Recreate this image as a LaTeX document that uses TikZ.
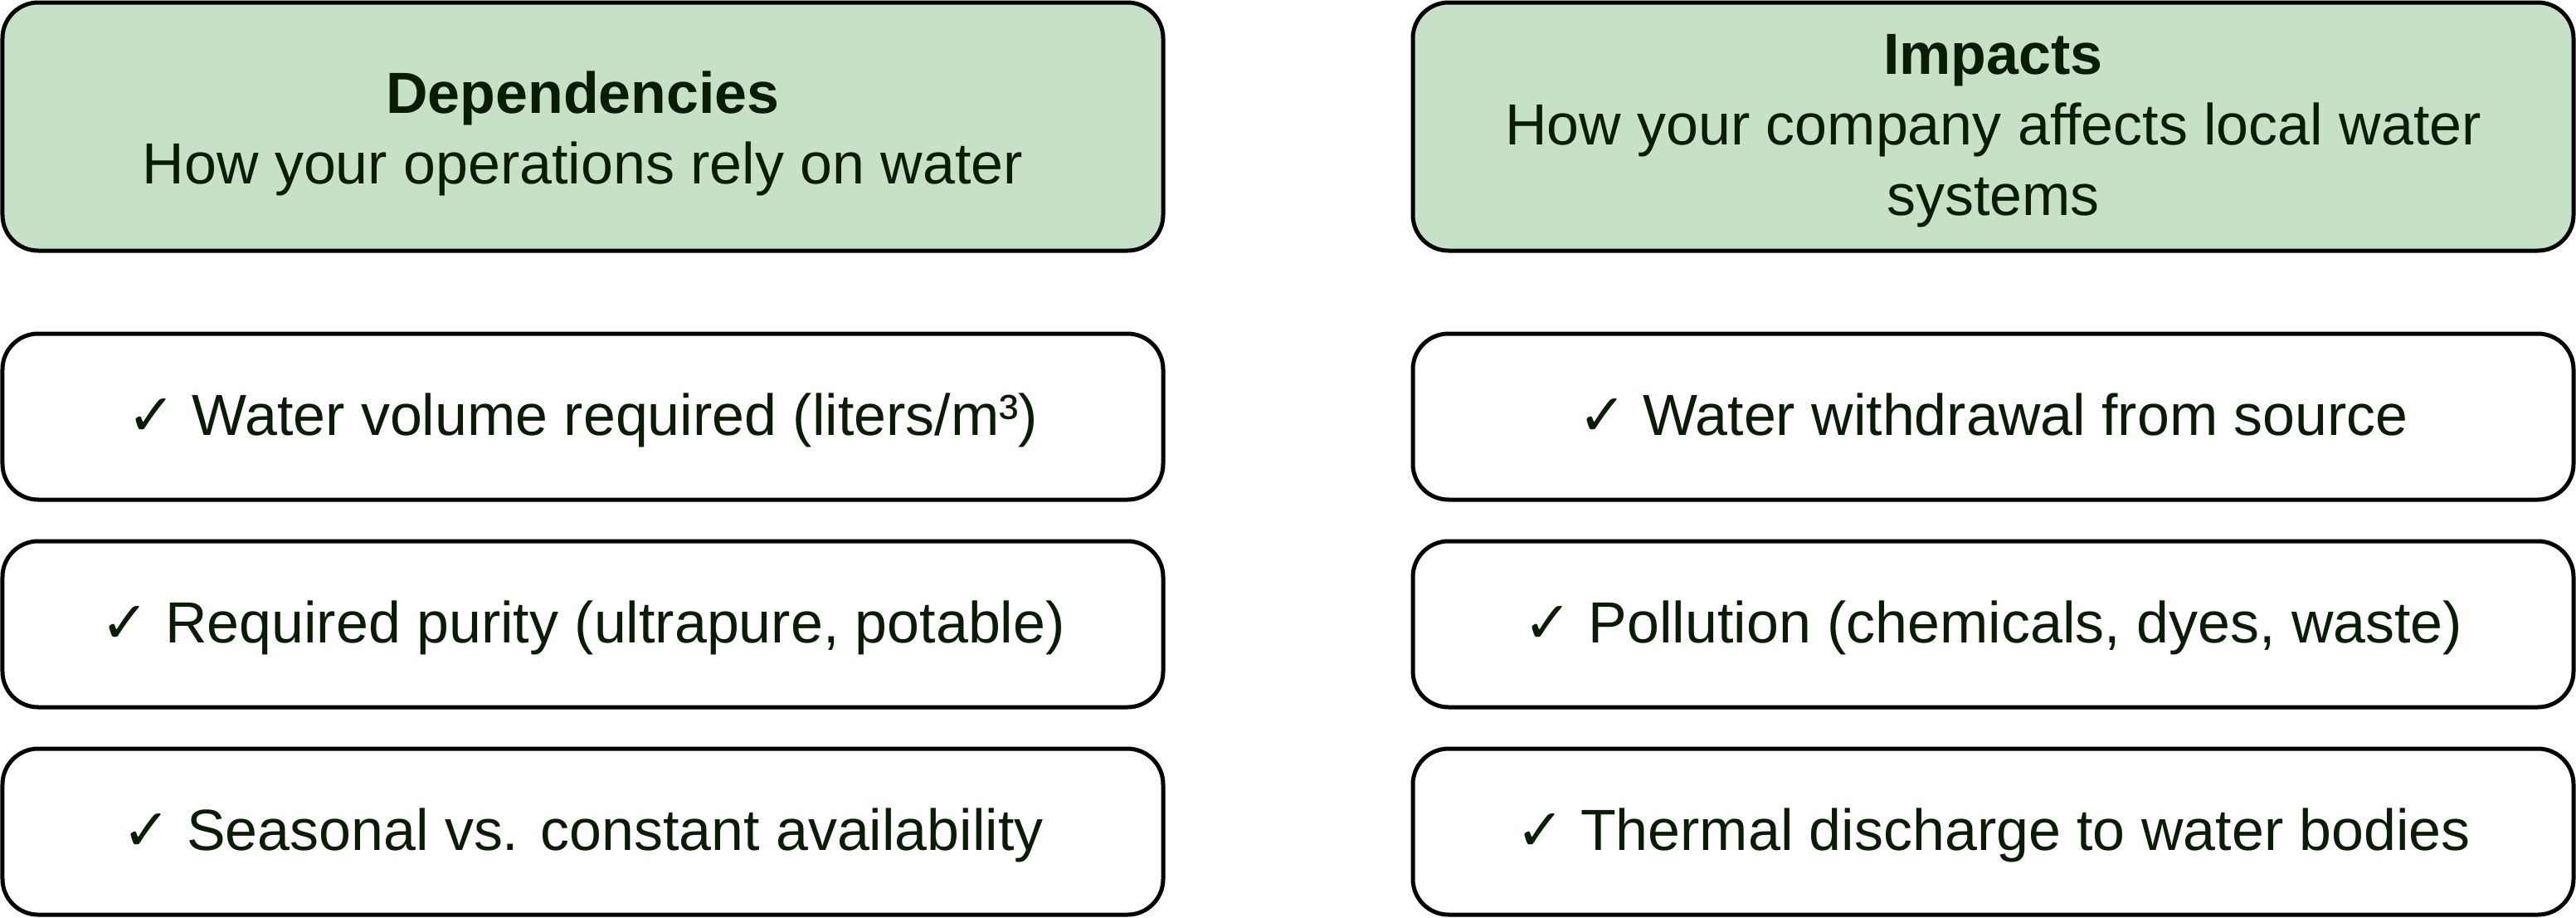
\documentclass[tikz,border=0pt]{standalone}
\usepackage{fontspec}
\setmainfont{Liberation Sans}
\newfontfamily\chkfont{DejaVu Sans}
\definecolor{hdrfill}{RGB}{199,224,200}
\definecolor{txtgreen}{RGB}{10,28,5}
\newcommand{\chk}{{\chkfont\char"2713}\ }
\newcommand{\hdrstrut}[1]{\rule{0pt}{#1}}
\tikzset{
	box/.style={draw=black, line width=0.05cm, rounded corners=0.43cm, minimum width=13.99cm, text=txtgreen, align=center, font=\fontsize{19.9}{24.2}\selectfont},
	hdrbox/.style={box, fill=hdrfill, minimum height=2.99cm},
	itembox/.style={box, fill=white, minimum height=2cm, text height=0.6cm, text depth=0.16cm}
}
\begin{document}
\begin{tikzpicture}[line join=round, line cap=round]
	\useasboundingbox (0,0) rectangle (31.05,-11.05);
	% headers
	\node[hdrbox] (hdep) at (7.025,-1.525) {\hdrstrut{0.68cm}\textbf{Dependencies}\\How your operations rely on water};
	\node[hdrbox] (himp) at (24.025,-1.525) {\hdrstrut{0.58cm}\textbf{Impacts}\\How your company affects local water\\systems};
	% dependencies
	\node[itembox] (dep1) at (7.025,-5.02) {\chk Water volume required (liters/m³)};
	\node[itembox] (dep2) at (7.025,-7.52) {\chk Required purity (ultrapure, potable)};
	\node[itembox] (dep3) at (7.025,-10.02) {\chk Seasonal vs. constant availability};
	% impacts
	\node[itembox] (imp1) at (24.025,-5.02) {\chk Water withdrawal from source};
	\node[itembox] (imp2) at (24.025,-7.52) {\chk Pollution (chemicals, dyes, waste)};
	\node[itembox] (imp3) at (24.025,-10.02) {\chk Thermal discharge to water bodies};
\end{tikzpicture}
\end{document}
